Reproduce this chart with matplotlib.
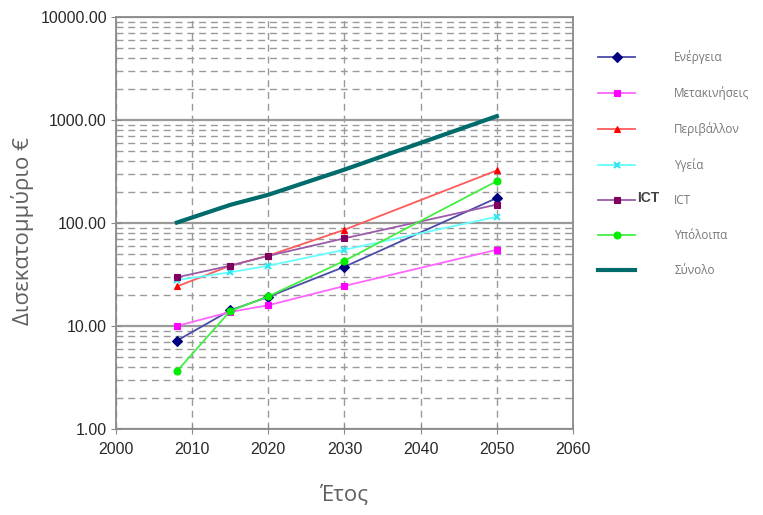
import matplotlib
matplotlib.use('Agg')
import matplotlib.pyplot as plt
import numpy as np
from matplotlib.ticker import FixedLocator, FuncFormatter, NullFormatter

years = [2008, 2015, 2020, 2030, 2050]
energeia = [7.2, 14.2, 19.2, 37.6, 175]
metakiniseis = [10.0, 13.7, 15.9, 24.5, 55]
perivallon = [24.2, 38.5, 48.2, 86, 324]
ygeia = [27.9, 33.2, 38.5, 55, 115]
ict = [29.7, 38.5, 48.0, 71, 151]
ypoloipa = [3.64, 14.0, 19.4, 43, 255]
total_years = [2008, 2015, 2020, 2030, 2040, 2050]
synolo = [101, 150, 188, 330, 600, 1090]

labels = ['Ενέργεια', 'Μετακινήσεις', 'Περιβάλλον', 'Υγεία', 'ICT', 'Υπόλοιπα', 'Σύνολο']

fig = plt.figure(figsize=(7.63, 5.15), dpi=100)
ax = fig.add_axes([116/763, 1 - 429/515, (573 - 116)/763, (429 - 17)/515])

# series: (values, line colour, marker colour, marker)
series = [
    (energeia, '#4a4aa8', '#000080', 'D'),
    (metakiniseis, '#ff66ff', '#ff00ff', 's'),
    (perivallon, '#ff5a5a', '#ff0000', '^'),
    (ygeia, '#66ffff', '#33e6f0', 'x'),
    (ict, '#9a5aa8', '#800060', 's'),
    (ypoloipa, '#44ee44', '#00ee00', 'o'),
]
handles = []
for (vals, lc, mc, mk) in series:
    h, = ax.plot(years, vals, color=lc, lw=1.3, marker=mk, markersize=5,
                 markerfacecolor=mc, markeredgecolor=mc, mew=1.5 if mk == 'x' else 0.8)
    handles.append(h)
h, = ax.plot(total_years, synolo, color='#006b6b', lw=3)
handles.append(h)

ax.set_yscale('log')
ax.set_ylim(1, 10000)
ax.set_xlim(2000, 2060)
ax.set_xticks(range(2000, 2061, 10))
ax.yaxis.set_major_locator(FixedLocator([1, 10, 100, 1000, 10000]))
ax.yaxis.set_major_formatter(FuncFormatter(lambda v, p: '%.2f' % v))
minors = [m * 10**e for e in range(0, 4) for m in range(2, 10)]
ax.yaxis.set_minor_locator(FixedLocator(minors))
ax.yaxis.set_minor_formatter(NullFormatter())

ax.grid(which='major', axis='y', color='#9a9a9a', lw=1.6, ls='-')
ax.grid(which='minor', axis='y', color='#9a9a9a', lw=1.0, ls=(0, (5, 3.5)))
ax.grid(which='major', axis='x', color='#9a9a9a', lw=1.0, ls=(0, (5, 3.5)))
ax.set_axisbelow(True)

for s in ax.spines.values():
    s.set_color('#8a8a8a')
    s.set_linewidth(1.3)
ax.tick_params(which='major', direction='inout', length=7, color='#8a8a8a',
               labelsize=11.5, labelcolor='#2a2a2a')
ax.tick_params(which='minor', length=0)
ax.tick_params(axis='x', pad=6)
ax.tick_params(axis='y', pad=3)
for t in ax.get_xticklabels() + ax.get_yticklabels():
    t.set_fontfamily('Liberation Sans')

ax.set_ylabel('Δισεκατομμύριο €', fontsize=16, color='#606060', family='Open Sans')
ax.yaxis.set_label_coords(-0.18, 0.48)
ax.set_xlabel('Έτος', fontsize=16, color='#606060', family='Open Sans', labelpad=20)

leg = fig.legend(handles, labels, loc='upper left', bbox_to_anchor=(587/763, 1 - 40/515),
                 frameon=False, handlelength=3.2, handletextpad=3.3,
                 labelspacing=1.86, prop={'family': 'Open Sans', 'size': 8.5})
for t in leg.get_texts():
    t.set_color('#777777')

fig.text(637/763, 1 - 198/515, 'ICT', fontsize=10, fontweight='bold', color='#444444',
         family='Liberation Sans', va='center')

fig.savefig('out.png', dpi=100)
